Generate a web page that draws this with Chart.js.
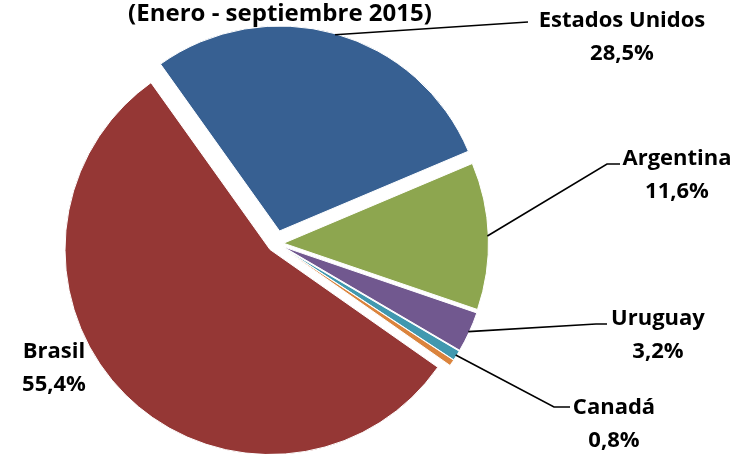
<!DOCTYPE html>
<html>
<head>
<meta charset="utf-8">
<script src="https://cdn.jsdelivr.net/npm/chart.js@4.4.1/dist/chart.umd.min.js"></script>
<style>
    html, body { margin: 0; padding: 0; background: #ffffff; }
    #canvas-container { width: 740px; height: 454px; position: relative; }
</style>
</head>
<body>
<div id="canvas-container"><canvas id="myChart1"></canvas></div>
<script>
// Datos del gráfico (participación por país de destino)
const paises = ['Estados Unidos', 'Argentina', 'Uruguay', 'Canadá', 'Otros', 'Brasil'];
const participacion = [28.5, 11.6, 3.2, 0.8, 0.5, 55.4];
const etiquetasPct = ['28,5%', '11,6%', '3,2%', '0,8%', '', '55,4%'];
const titulo = '(Enero - septiembre 2015)';

// Colores estilo Excel
const colores = ['#376092', '#8DA64F', '#71588F', '#4198AF', '#DB843D', '#953735'];
// "explosión" de cada porción (se desplaza offset/4 px)
const desplazamientos = [52, 30, 30, 30, 30, 34];

// Posición de etiquetas y líneas guía (centro de la primera línea de texto)
const posEtiquetas = [
    { x: 622, y: 21, linea: [[528, 22]] },
    { x: 677, y: 159, linea: [[607, 164], [620, 164]] },
    { x: 658, y: 319, linea: [[596, 324], [607, 324]] },
    { x: 614, y: 408, linea: [[554, 407], [570, 407]] },
    null,
    { x: 54, y: 352, linea: null }
];

const FUENTE = 'bold 22px "Open Sans", Lato, sans-serif';
const FUENTE_TITULO = 'bold 24px "Open Sans", Lato, sans-serif';
const INTERLINEA = 33;

// Desplazamiento tipo Excel: se traslada la porción sin cambiar radio ni ángulo
const drawArcOriginal = Chart.ArcElement.prototype.draw;
Chart.ArcElement.prototype.draw = function(ctx) {
    const opts = this.options;
    const desp = (opts.offset || 0) / 4;
    const mid = (this.startAngle + this.endAngle) / 2;
    ctx.save();
    ctx.translate(Math.cos(mid) * desp, Math.sin(mid) * desp);
    this.options = Object.assign({}, opts, { offset: 0 });
    drawArcOriginal.call(this, ctx);
    this.options = opts;
    ctx.restore();
};

const etiquetasPlugin = {
    id: 'etiquetasPlugin',
    afterDraw(chart) {
        const ctx = chart.ctx;
        const meta = chart.getDatasetMeta(0);
        ctx.save();
        ctx.fillStyle = '#000000';
        ctx.textAlign = 'center';
        ctx.textBaseline = 'middle';

        // título (parcialmente cortado arriba en el original)
        ctx.font = FUENTE_TITULO;
        ctx.fillText(titulo, 280, 14);

        ctx.font = FUENTE;
        meta.data.forEach((arc, i) => {
            const pos = posEtiquetas[i];
            if (!pos) return;
            if (pos.linea) {
                const mid = (arc.startAngle + arc.endAngle) / 2;
                const desp = (arc.options.offset || 0) / 4;
                const r = arc.outerRadius + desp - 1;
                const x0 = arc.x + Math.cos(mid) * r;
                const y0 = arc.y + Math.sin(mid) * r;
                ctx.beginPath();
                ctx.lineWidth = 1.6;
                ctx.strokeStyle = '#000000';
                ctx.moveTo(x0, y0);
                pos.linea.forEach(p => ctx.lineTo(p[0], p[1]));
                ctx.stroke();
            }
            ctx.fillText(paises[i], pos.x, pos.y);
            ctx.fillText(etiquetasPct[i], pos.x, pos.y + INTERLINEA);
        });
        ctx.restore();
    }
};

const canvas = document.getElementById('myChart1');
new Chart(canvas.getContext('2d'), {
    type: 'pie',
    data: {
        labels: paises,
        datasets: [{
            data: participacion,
            backgroundColor: colores,
            borderColor: '#ffffff',
            borderWidth: 1,
            offset: desplazamientos,
            radius: 205
        }]
    },
    options: {
        responsive: true,
        maintainAspectRatio: false, // ocupa todo el contenedor
        animation: false,
        rotation: -35.5,
        layout: {
            padding: { left: 0, right: 188, top: 33, bottom: 0 }
        },
        plugins: {
            legend: { display: false },
            tooltip: { enabled: false },
            title: { display: false }
        }
    },
    plugins: [etiquetasPlugin]
});
</script>
</body>
</html>
